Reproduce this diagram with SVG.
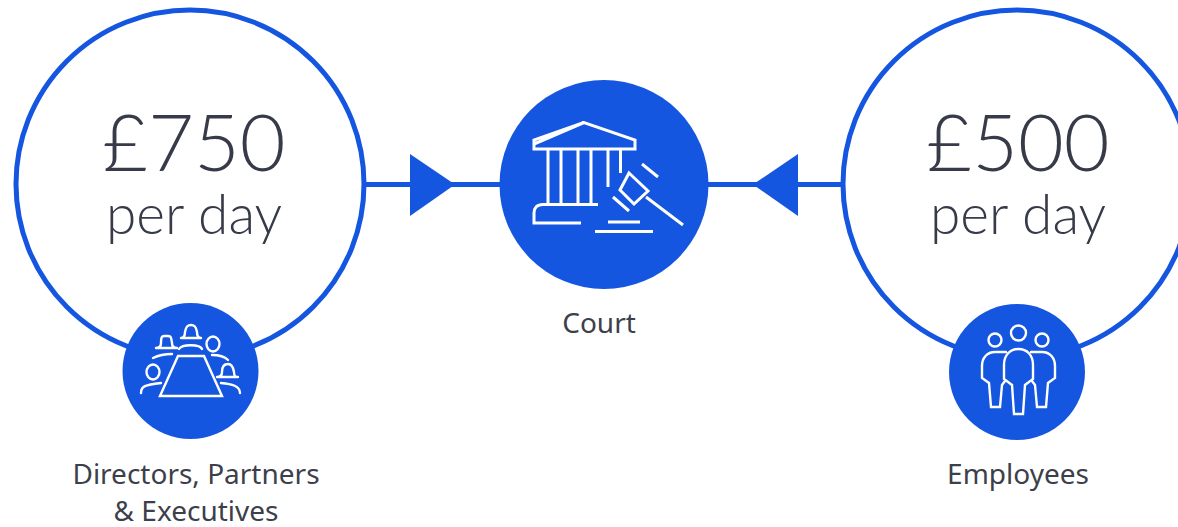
<svg xmlns="http://www.w3.org/2000/svg" width="1178" height="527" viewBox="0 0 1178 527">
<style>
.ring{fill:#fff;stroke:#1556e0;stroke-width:5}
.blue{fill:#1556e0}
.ic{fill:none;stroke:#fff;stroke-width:3}
.ict{fill:none;stroke:#fff;stroke-width:2.4;stroke-linecap:round}
.big{font-family:"Lato","Liberation Sans",sans-serif;font-weight:300;font-size:79px;fill:#373a48;text-anchor:middle}
.mid{font-family:"Lato","Liberation Sans",sans-serif;font-weight:300;font-size:55px;fill:#373a48;text-anchor:middle}
.lab{font-family:"Noto Sans","Liberation Sans",sans-serif;font-size:28px;fill:#3d3f4b;text-anchor:middle}
</style>
<rect width="1178" height="527" fill="#fff"/>
<g id="connectors">
<path d="M364 184.500H500M708 184.500H844" fill="none" stroke="#1556e0" stroke-width="5"/>
<polygon class="blue" points="410,154 455,184.500 410,216"/>
<polygon class="blue" points="798,154 753,184.500 798,216"/>
</g>
<g id="directors">
<circle class="ring" cx="190" cy="184" r="174"/>
<text class="big" x="194" y="171">£750</text>
<text class="mid" x="194" y="234">per day</text>
<circle class="blue" cx="190.500" cy="371" r="68"/>
<g class="ict">
<path d="M160 396L178 356H204L222 396Z"/>
<path d="M156 348C159 348 161 347 161 343C161 335 163 336 166 336C170 336 171 335 172 343C172 347 174 348 177 348M156 348H177"/>
<path d="M153 358C157 356 165 354 172 354"/>
<path d="M181 338C184 338 185 336 185 332C186 326 188 325 191 325C194 325 196 326 197 332C197 336 198 338 201 338M181 338H201"/>
<path d="M179 349C182 344 200 344 202 349"/>
<ellipse cx="213" cy="344" rx="6.500" ry="7.500"/>
<path d="M212 355C218 355 224 356 228 360"/>
<ellipse cx="153" cy="372" rx="6.500" ry="7.500"/>
<path d="M141 393C141 386 145 385 161 383"/>
<path d="M217 377C220 377 222 376 222 372C222 366 225 364 228 364C231 364 233 366 234 372C234 376 235 377 238 377M217 377H238"/>
<path d="M221 383C232 384 240 386 240 393"/>
</g>
</g>
<g id="court">
<circle class="blue" cx="604" cy="184.500" r="104.500"/>
<g class="ic">
<path d="M534 144L584 122.500L635 140V149H534V140L584 122.500"/>
<path d="M548 149V204M561 149V204M578 149V204M591 149V204M608 149V187M620.500 149V173"/>
<path d="M598 204.500H543C537 204.500 534 208 534 213V223H581"/>
<path d="M608 222H640M595 231.500H653"/>
<path d="M629 173L648 191L634 204L620 190Z"/>
<path d="M642 164L658 177M613 197L629 211M646 197L683 225"/>
</g>
</g>
<g id="employees">
<circle class="ring" cx="1017" cy="184" r="174"/>
<text class="big" x="1018" y="171">£500</text>
<text class="mid" x="1018" y="234">per day</text>
<circle class="blue" cx="1017" cy="372" r="68"/>
<g class="ict">
<circle cx="995" cy="340" r="6.500"/>
<circle cx="1018.500" cy="333" r="7.500"/>
<circle cx="1042" cy="340" r="6.500"/>
<path d="M1006 352H995C987 352 982 358 982 366V378L989 383L991 407H1000L1002 385L1005 381"/>
<path d="M1031 352H1042C1050 352 1055 358 1055 366V378L1048 383L1046 407H1037L1035 385L1032 381"/>
<path d="M1018.500 349C1010 349 1004 355 1004 365V379L1012 385L1014 414H1023L1025 385L1033 379V365C1033 355 1027 349 1018.500 349Z"/>
</g>
</g>
<text class="lab" x="599" y="333">Court</text>
<text class="lab" x="196" y="484">Directors, Partners</text>
<text class="lab" x="196" y="521">&amp; Executives</text>
<text class="lab" x="1018" y="484">Employees</text>
</svg>
